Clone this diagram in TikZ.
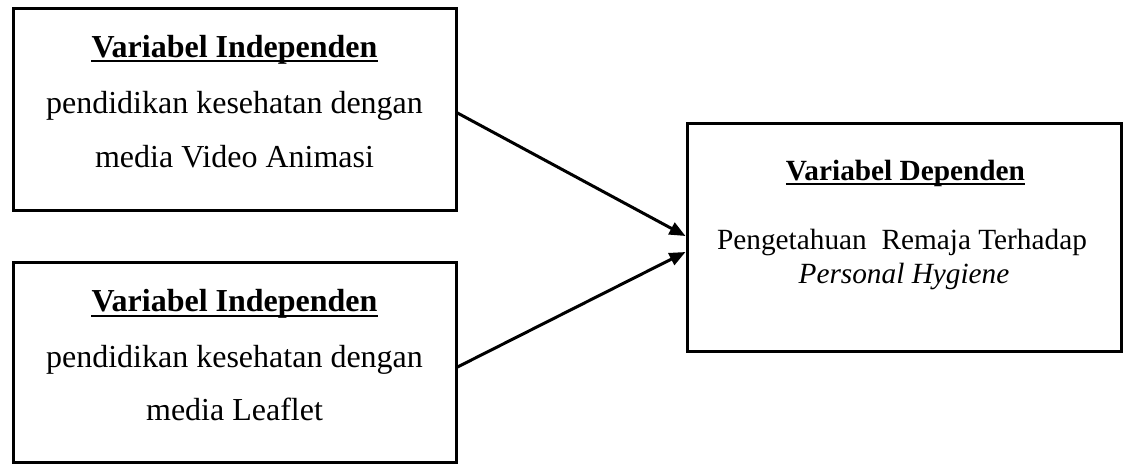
\documentclass[tikz,border=0pt]{standalone}
\usepackage{fontspec}
\setmainfont{Liberation Serif}
\usetikzlibrary{arrows.meta}
\begin{document}
\begin{tikzpicture}[x=1pt,y=-1pt,
  box/.style={draw=black,line width=3pt,rectangle,inner sep=0pt},
  txtA/.style={inner sep=0pt,anchor=base,font=\fontsize{32}{38}\selectfont},
  txtB/.style={inner sep=0pt,anchor=base,font=\fontsize{29.3}{35}\selectfont},
  ul/.style={line width=2pt},
  conn/.style={line width=3pt,-{Triangle[length=16pt,width=13pt]}}]
\useasboundingbox (0,0) rectangle (1128,464);
% boxes
\node[box,minimum width=443pt,minimum height=202pt] (b1) at (234.5,109) {};
\node[box,minimum width=443pt,minimum height=200pt] (b2) at (234.5,362) {};
\node[box,minimum width=434pt,minimum height=228pt] (b3) at (904,237) {};
% box 1 text
\node[txtA] (h1) at (234.5,57) {\bfseries Variabel Independen};
\draw[ul] ([yshift=-4pt]h1.base west) -- ([yshift=-4pt]h1.base east);
\node[txtA] (t1a) at (234.5,113) {pendidikan kesehatan dengan};
\node[txtA] (t1b) at (234.5,167) {media Video Animasi};
% box 2 text
\node[txtA] (h2) at (234.5,311) {\bfseries Variabel Independen};
\draw[ul] ([yshift=-4.5pt]h2.base west) -- ([yshift=-4.5pt]h2.base east);
\node[txtA] (t2a) at (234.5,367) {pendidikan kesehatan dengan};
\node[txtA] (t2b) at (234.5,420) {media Leaflet};
% box 3 text
\node[txtB] (h3) at (905.5,180) {\bfseries Variabel Dependen};
\draw[ul] ([yshift=-4pt]h3.base west) -- ([yshift=-4pt]h3.base east);
\node[txtB] (t3a) at (902,249) {Pengetahuan\ \ Remaja Terhadap};
\node[txtB] (t3b) at (904,283) {\itshape Personal Hygiene};
% connectors
\draw[conn] ([yshift=-4pt]b1.east) -- ([yshift=1pt]b3.west);
\draw[conn] ([yshift=-5pt]b2.east) -- ([yshift=-15pt]b3.west);
\end{tikzpicture}
\end{document}
